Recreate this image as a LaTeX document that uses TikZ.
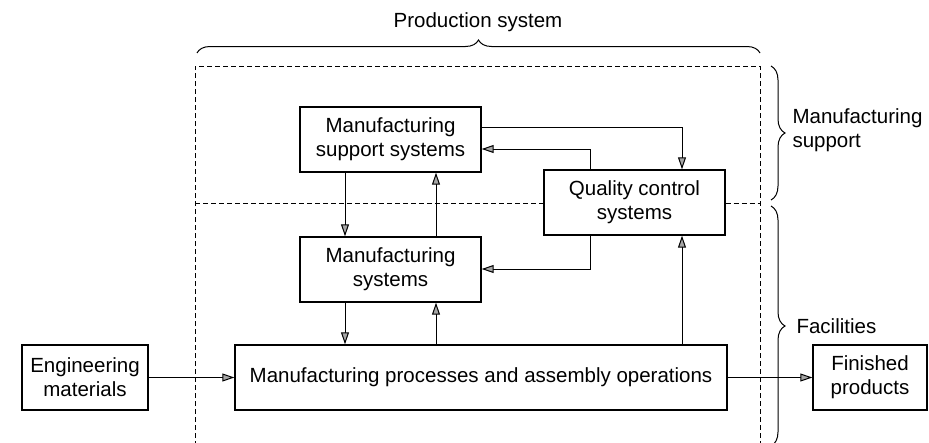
\documentclass[tikz,border=0pt]{standalone}
\usepackage{fontspec}
\setmainfont{Liberation Sans}
\usetikzlibrary{arrows.meta,decorations.pathreplacing}

\begin{document}
\begin{tikzpicture}[x=1pt,y=-1pt,
  every node/.style={font=\fontsize{20.5}{24}\selectfont},
  blk/.style={draw, line width=1.4pt, align=center, inner sep=0pt},
  conn/.style={line width=1pt, -{Triangle[length=12pt,width=8pt,fill=gray!70,line width=1pt]}},
  divider/.style={line width=1pt, dash pattern=on 5pt off 3pt},
  bracket/.style={line width=1pt, decorate, decoration={brace, amplitude=#1}}
]
\useasboundingbox (0,0) rectangle (929,442);
\clip (0,0) rectangle (929,442);

% helper coordinates for connector columns and rows
\coordinate (xL) at (345,0);
\coordinate (xR) at (436,0);
\coordinate (xQ) at (590,0);
\coordinate (xP) at (682,0);
\coordinate (yA) at (0,127);
\coordinate (yB) at (0,149);
\coordinate (yC) at (0,269);

% production system boundary and the support/facilities divider
\draw[divider] (195,470) -- (195,66) -- (760,66) -- (760,470);

% blocks
\node[blk, minimum width=181pt, minimum height=65pt] (mss) at (390.5,139.5) {Manufacturing\\support systems};
\node[blk, minimum width=181pt, minimum height=65pt] (ms)  at (390.5,269.5) {Manufacturing\\systems};
\node[blk, minimum width=181pt, minimum height=65pt] (qc)  at (634.5,202.5) {Quality control\\systems};
\node[blk, minimum width=492pt, minimum height=65pt] (mp)  at (481,377.5) {Manufacturing processes and assembly operations};
\node[blk, minimum width=126pt, minimum height=65pt] (em)  at (85,377.5) {Engineering\\materials};
\node[blk, minimum width=114pt, minimum height=65pt] (fp)  at (870,377.5) {Finished\\products};

\draw[divider] (195,203) -- (qc.west |- 0,203);
\draw[divider] (qc.east |- 0,203) -- (760,203);

% connectors
\draw[conn] (mss.south -| xL) -- (ms.north -| xL);
\draw[conn] (ms.north -| xR) -- (mss.south -| xR);
\draw[conn] (ms.south -| xL) -- (mp.north -| xL);
\draw[conn] (mp.north -| xR) -- (ms.south -| xR);
\draw[conn] (mss.east |- yA) -- (yA -| xP) -- (qc.north -| xP);
\draw[conn] (qc.north -| xQ) |- (mss.east |- yB);
\draw[conn] (qc.south -| xQ) |- (ms.east |- yC);
\draw[conn] (mp.north -| xP) -- (qc.south -| xP);
\draw[conn] (em) -- (mp);
\draw[conn] (mp) -- (fp);

% braces and labels
\draw[bracket=13pt] (197,53) -- (760,53);
\node (ps) at (478,22) {Production system};
\draw[bracket=14pt] (771,66) -- (771,200);
\draw[bracket=14pt] (771,206) -- (771,446);
\node[anchor=west, align=left] (msup) at (789,130) {Manufacturing\\support};
\node[anchor=west] (fac) at (793,326) {Facilities};
\end{tikzpicture}
\end{document}
